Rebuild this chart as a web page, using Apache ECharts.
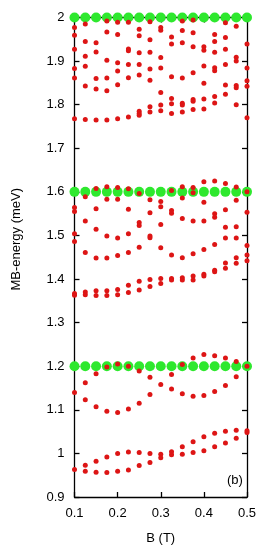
<!DOCTYPE html>
<html>
<head>
<meta charset="utf-8">
<script src="https://cdn.jsdelivr.net/npm/echarts@6/dist/echarts.min.js"></script>
<style>
html,body{margin:0;padding:0;background:#fff;}
#chart{width:275px;height:550px;}
</style>
</head>
<body>
<div id="chart"></div>
<script>
// Magnetic field values (T) of each column of points
const bValues = [0.1, 0.125, 0.15, 0.175, 0.2, 0.225, 0.25, 0.275, 0.3, 0.325, 0.35, 0.375, 0.4, 0.425, 0.45, 0.475, 0.5];
// Degenerate (green) levels, meV
const greenLevels = [2.0, 1.6, 1.2];
// Red MB-energies (meV) per column, same order as bValues
const redLevels = [
  [1.977, 1.959, 1.927, 1.883, 1.861, 1.768, 1.564, 1.555, 1.504, 1.486, 1.367, 1.363, 1.140, 0.963],
  [1.985, 1.945, 1.911, 1.888, 1.843, 1.766, 1.589, 1.533, 1.461, 1.370, 1.364, 1.162, 1.123, 0.973, 0.959],
  [1.942, 1.921, 1.860, 1.836, 1.765, 1.608, 1.561, 1.514, 1.448, 1.373, 1.362, 1.183, 1.107, 0.982, 0.957],
  [1.992, 1.967, 1.902, 1.861, 1.832, 1.765, 1.612, 1.583, 1.499, 1.448, 1.373, 1.362, 1.198, 1.097, 0.992, 0.956],
  [1.989, 1.961, 1.896, 1.877, 1.846, 1.768, 1.610, 1.583, 1.494, 1.454, 1.376, 1.364, 1.205, 1.094, 1.000, 0.959],
  [1.989, 1.928, 1.924, 1.892, 1.862, 1.772, 1.607, 1.560, 1.504, 1.461, 1.386, 1.369, 1.200, 1.102, 1.003, 0.962],
  [1.973, 1.958, 1.919, 1.892, 1.868, 1.785, 1.780, 1.776, 1.596, 1.530, 1.523, 1.473, 1.395, 1.375, 1.189, 1.115, 1.002, 0.972],
  [1.990, 1.949, 1.920, 1.882, 1.856, 1.795, 1.783, 1.582, 1.552, 1.499, 1.495, 1.399, 1.383, 1.175, 1.135, 1.000, 0.979],
  [1.977, 1.971, 1.908, 1.884, 1.828, 1.799, 1.786, 1.578, 1.566, 1.525, 1.472, 1.401, 1.390, 1.158, 0.998, 0.990],
  [1.955, 1.939, 1.864, 1.814, 1.802, 1.780, 1.603, 1.557, 1.551, 1.455, 1.401, 1.398, 1.181, 1.148, 1.004, 0.997],
  [1.992, 1.970, 1.942, 1.861, 1.803, 1.799, 1.783, 1.612, 1.586, 1.539, 1.449, 1.403, 1.398, 1.204, 1.137, 1.015, 0.998],
  [1.994, 1.965, 1.933, 1.873, 1.812, 1.808, 1.789, 1.610, 1.598, 1.533, 1.458, 1.407, 1.398, 1.219, 1.131, 1.027, 1.002],
  [1.933, 1.925, 1.889, 1.849, 1.813, 1.790, 1.623, 1.576, 1.533, 1.468, 1.411, 1.407, 1.227, 1.133, 1.038, 1.006],
  [1.961, 1.945, 1.920, 1.885, 1.878, 1.819, 1.804, 1.625, 1.550, 1.542, 1.479, 1.420, 1.417, 1.224, 1.142, 1.046, 1.015],
  [1.988, 1.954, 1.927, 1.892, 1.845, 1.824, 1.619, 1.559, 1.519, 1.494, 1.437, 1.425, 1.219, 1.156, 1.051, 1.024],
  [1.980, 1.909, 1.900, 1.844, 1.839, 1.800, 1.611, 1.581, 1.520, 1.494, 1.449, 1.436, 1.211, 1.176, 1.053, 1.035],
  [1.939, 1.884, 1.855, 1.842, 1.770, 1.600, 1.553, 1.477, 1.455, 1.442, 1.200, 1.052, 1.048]
];
const xTickLabels = ['0.1', '0.2', '0.3', '0.4', '0.5'];
const yTickLabels = ['0.9', '1', '1.1', '1.2', '1.3', '1.4', '1.5', '1.6', '1.7', '1.8', '1.9', '2'];

const greenData = [];
greenLevels.forEach(function (lv) { bValues.forEach(function (b) { greenData.push([b, lv]); }); });
const redData = [];
redLevels.forEach(function (col, i) { col.forEach(function (v) { redData.push([bValues[i], v]); }); });

const FONT = 'Liberation Sans, Arial, sans-serif';
const chart = echarts.init(document.getElementById('chart'), null, { renderer: 'canvas' });
const axisLine = { show: true, lineStyle: { color: '#000', width: 1.3 } };
const tickIn = { show: true, inside: true, length: 5, lineStyle: { color: '#000', width: 1.3 } };
chart.setOption({
  animation: false,
  backgroundColor: '#fff',
  grid: { left: 74.5, right: 28, top: 17.5, bottom: 49, containLabel: false },
  xAxis: [
    {
      type: 'value', min: 0.1, max: 0.5, interval: 0.1, position: 'bottom',
      axisLine: axisLine, axisTick: tickIn, splitLine: { show: false },
      axisLabel: { color: '#000', fontSize: 13, fontFamily: FONT, margin: 10,
        formatter: function (v) { return xTickLabels[Math.round((v - 0.1) / 0.1)]; } },
      name: 'B (T)', nameLocation: 'middle', nameGap: 35,
      nameTextStyle: { color: '#000', fontSize: 13, fontFamily: FONT }
    },
    {
      type: 'value', min: 0.1, max: 0.5, interval: 0.1, position: 'top',
      axisLine: axisLine, axisTick: tickIn, splitLine: { show: false }, axisLabel: { show: false }
    }
  ],
  yAxis: [
    {
      type: 'value', min: 0.9, max: 2.0, interval: 0.1, position: 'left',
      axisLine: axisLine, axisTick: tickIn, splitLine: { show: false },
      axisLabel: { color: '#000', fontSize: 13, fontFamily: FONT, margin: 10,
        formatter: function (v) { return yTickLabels[Math.round((v - 0.9) / 0.1)]; } },
      name: 'MB-energy (meV)', nameLocation: 'middle', nameGap: 52, nameRotate: 90,
      nameTextStyle: { color: '#000', fontSize: 13, fontFamily: FONT, padding: [0, 0, 0, 36] }
    },
    {
      type: 'value', min: 0.9, max: 2.0, interval: 0.1, position: 'right',
      axisLine: axisLine, axisTick: tickIn, splitLine: { show: false }, axisLabel: { show: false }
    }
  ],
  graphic: [
    { type: 'text', left: 227, top: 474,
      style: { text: '(b)', fill: '#000', font: '13px Liberation Sans, Arial, sans-serif' } }
  ],
  series: [
    { type: 'scatter', data: greenData, symbolSize: 10, itemStyle: { color: '#2ee82e', opacity: 1 }, z: 2 },
    { type: 'scatter', data: redData, symbolSize: 5, itemStyle: { color: '#dd1515', opacity: 1 }, z: 3 }
  ]
});
</script>
</body>
</html>
